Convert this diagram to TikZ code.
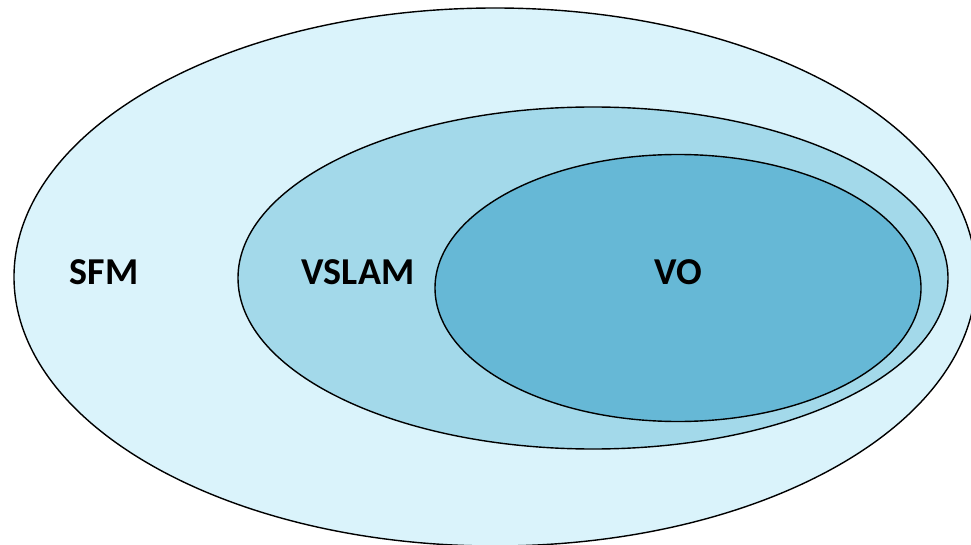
\documentclass[tikz,border=0pt]{standalone}
\usepackage{fontspec}
\setmainfont{Carlito}
\usepackage{tikz}
\usetikzlibrary{shapes.geometric}

\definecolor{sfmblue}{HTML}{DAF3FB}
\definecolor{slamblue}{HTML}{A3D9EA}
\definecolor{voblue}{HTML}{66B8D6}

\begin{document}
\begin{tikzpicture}[x=1pt,y=-1pt]
	\tikzset{set/.style={ellipse,draw=black,line width=1.4pt,inner sep=0pt},
		setname/.style={font=\fontsize{38}{42}\selectfont\bfseries,text=black}}
	\clip (0,0) rectangle (971,545);
	\node[set,fill=sfmblue,minimum width=962pt,minimum height=538pt] (sfm) at (495,277) {};
	\node[set,fill=slamblue,minimum width=710pt,minimum height=342pt] (vslam) at (593,278) {};
	\node[set,fill=voblue,minimum width=486pt,minimum height=267pt] (vo) at (678,288) {};
	\node[setname] (sfmname) at (104,272) {SFM};
	\node[setname] (vslamname) at (358,272) {VSLAM};
	\node[setname] (voname) at (678,272) {VO};
\end{tikzpicture}
\end{document}
